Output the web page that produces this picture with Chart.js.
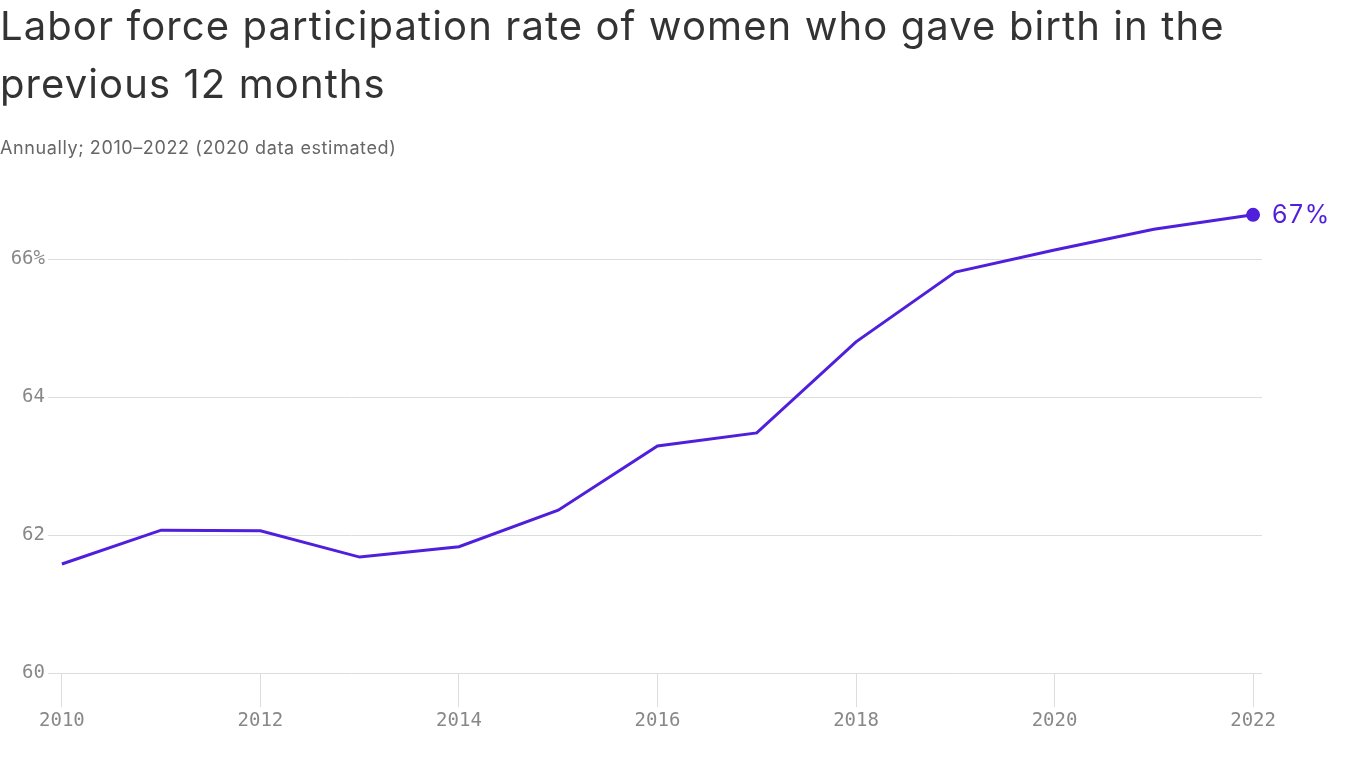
<!DOCTYPE html>
<html>
<head>
<meta charset="utf-8">
<script src="https://cdn.jsdelivr.net/npm/chart.js@4"></script>
<style>
  html, body { margin: 0; padding: 0; background: #fff; }
  #wrap { position: relative; width: 1366px; height: 768px; overflow: hidden; }
  #chart { position: absolute; left: 0; top: 0; }
  h1 {
    position: absolute; left: 0; top: -3px; margin: 0;
    font-family: Inter, "Noto Sans", sans-serif; font-weight: 400;
    font-size: 40px; line-height: 58px; color: #333; letter-spacing: 1.1px;
    white-space: nowrap;
  }
  .sub {
    position: absolute; left: 0; top: 137px; margin: 0;
    font-family: Inter, "Noto Sans", sans-serif; font-size: 18px;
    color: #666; letter-spacing: 0.6px;
  }
</style>
</head>
<body>
<div id="wrap">
  <canvas id="chart" width="1366" height="768"></canvas>
  <h1>Labor force participation rate of women who gave birth in the<br>previous 12 months</h1>
  <p class="sub">Annually; 2010–2022 (2020 data estimated)</p>
</div>
<script>
// данные
const years = [2010, 2011, 2012, 2013, 2014, 2015, 2016, 2017, 2018, 2019, 2020, 2021, 2022];
const rates = [61.58, 62.07, 62.06, 61.68, 61.83, 62.36, 63.29, 63.48, 64.80, 65.81, 66.13, 66.43, 66.64];
const xTicks = [2010, 2012, 2014, 2016, 2018, 2020, 2022];
const yTicks = [60, 62, 64, 66];
const endLabel = '67%';

const lineColor = '#4f1fdc';
const tickFont = { family: '"DejaVu Sans Mono", monospace', size: 19 };

// подпись у последней точки
const endLabelPlugin = {
    id: 'endLabel',
    afterDatasetsDraw(chart) {
        const meta = chart.getDatasetMeta(0);
        const pt = meta.data[meta.data.length - 1];
        const ctx = chart.ctx;
        ctx.save();
        ctx.fillStyle = lineColor;
        ctx.font = '25px Inter, "Noto Sans", sans-serif';
        ctx.letterSpacing = '1.5px';
        ctx.textBaseline = 'middle';
        ctx.textAlign = 'left';
        ctx.fillText(endLabel, pt.x + 19, pt.y + 1);
        ctx.restore();
    }
};

const ctx = document.getElementById('chart').getContext('2d');
new Chart(ctx, {
    type: 'line',
    data: {
        datasets: [{
            data: years.map((y, i) => ({ x: y, y: rates[i] })),
            borderColor: lineColor,
            backgroundColor: lineColor,
            borderWidth: 3,
            tension: 0,
            pointRadius: c => (c.dataIndex === years.length - 1 ? 5.5 : 0),
            pointHoverRadius: 0,
            clip: false
        }]
    },
    options: {
        responsive: false,
        animation: false,
        layout: { padding: { left: 0, right: 104, top: 190, bottom: 0 } },
        plugins: { legend: { display: false }, tooltip: { enabled: false } },
        scales: {
            x: {
                type: 'linear',
                min: 2009.86,
                max: 2022.09,
                afterBuildTicks: s => { s.ticks = xTicks.map(v => ({ value: v })); },
                afterFit: s => { s.height = 95; },
                border: { display: false },
                grid: { drawOnChartArea: false, drawTicks: true, tickLength: 34, color: '#dddddd', lineWidth: 1 },
                ticks: {
                    padding: 3,
                    color: '#888',
                    font: tickFont,
                    callback: v => String(v),
                    maxRotation: 0
                }
            },
            y: {
                min: 60,
                max: 67,
                afterBuildTicks: s => { s.ticks = yTicks.map(v => ({ value: v })); },
                afterFit: s => { s.width = 48; },
                border: { display: false },
                grid: { drawTicks: false, color: '#dddddd', lineWidth: 1 },
                ticks: {
                    padding: 3,
                    color: '#888',
                    font: tickFont,
                    callback: v => (v === 66 ? v + '%' : String(v))
                }
            }
        }
    },
    plugins: [endLabelPlugin]
});
</script>
</body>
</html>
